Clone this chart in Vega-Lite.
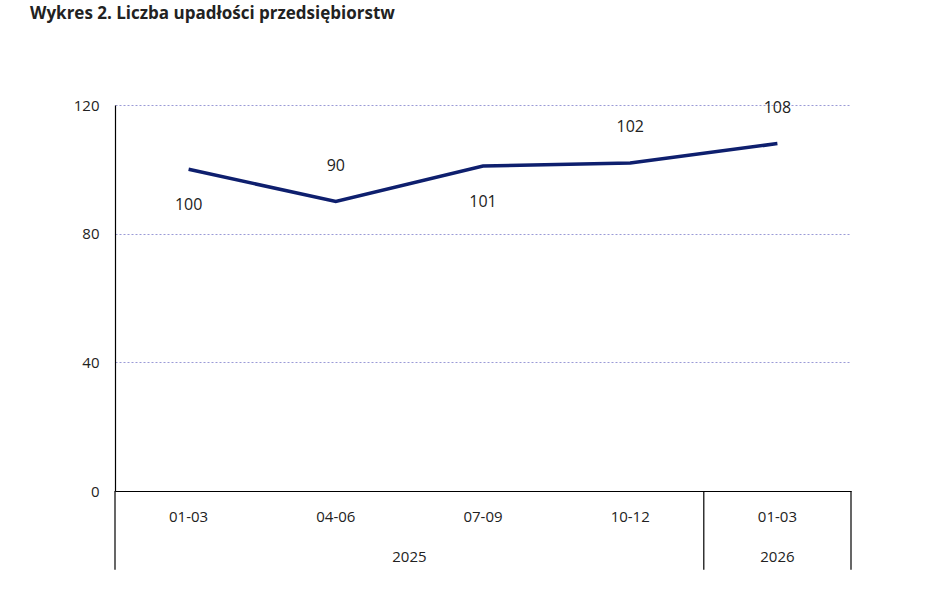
{
  "$schema": "https://vega.github.io/schema/vega-lite/v6.json",
  "autosize": "none",
  "width": 736,
  "height": 386,
  "padding": {"left": 115, "top": 105, "right": 97, "bottom": 98},
  "background": "white",
  "config": {
    "font": "Open Sans",
    "view": {"stroke": null},
    "title": {"font": "Open Sans", "fontSize": 17, "fontWeight": "bold", "color": "#222"}
  },
  "title": {"text": "Wykres 2. Liczba upadłości przedsiębiorstw", "anchor": "start", "frame": "group", "dx": -85, "offset": 75},
  "datasets": {
    "series": [
      {"key": "2025-01-03", "okres": "01-03", "value": 100, "pos": "below"},
      {"key": "2025-04-06", "okres": "04-06", "value": 90, "pos": "above"},
      {"key": "2025-07-09", "okres": "07-09", "value": 101, "pos": "below"},
      {"key": "2025-10-12", "okres": "10-12", "value": 102, "pos": "above"},
      {"key": "2026-01-03", "okres": "01-03", "value": 108, "pos": "above"}
    ],
    "separators": [
      {"key": "2025-01-03", "edge": "start"},
      {"key": "2026-01-03", "edge": "start"}
    ],
    "years": [
      {"key": "2025-07-09", "year": "2025"}
    ]
  },
  "encoding": {
    "x": {
      "field": "key", "type": "nominal", "sort": null,
      "scale": {"domain": ["2025-01-03", "2025-04-06", "2025-07-09", "2025-10-12", "2026-01-03"], "paddingInner": 0, "paddingOuter": 0},
      "axis": {"title": null, "labelAngle": 0, "ticks": false, "domainColor": "#000", "domainWidth": 1.2, "labelPadding": 18, "labelFontSize": 15, "labelColor": "#222", "labelExpr": "slice(datum.value, 5)"}
    }
  },
  "layer": [
    {
      "data": {"name": "series"},
      "mark": {"type": "line", "color": "#0e1f6e", "strokeWidth": 3.5},
      "encoding": {
        "y": {
          "field": "value", "type": "quantitative",
          "scale": {"domain": [0, 120]},
          "axis": {"title": null, "values": [0, 40, 80, 120], "ticks": false, "domainColor": "#000", "domainWidth": 1.2, "gridColor": "#9a9ad6", "gridDash": [2, 2], "labelPadding": 16, "labelFontSize": 15, "labelColor": "#222"}
        }
      }
    },
    {
      "data": {"name": "series"},
      "transform": [{"filter": "datum.pos == 'below'"}],
      "mark": {"type": "text", "fontSize": 16, "color": "#222", "dy": 36},
      "encoding": {
        "y": {"field": "value", "type": "quantitative"},
        "text": {"field": "value", "type": "quantitative"}
      }
    },
    {
      "data": {"name": "series"},
      "transform": [{"filter": "datum.pos == 'above'"}],
      "mark": {"type": "text", "fontSize": 16, "color": "#222", "dy": -36},
      "encoding": {
        "y": {"field": "value", "type": "quantitative"},
        "text": {"field": "value", "type": "quantitative"}
      }
    },
    {
      "data": {"name": "separators"},
      "mark": {"type": "rule", "color": "#000", "strokeWidth": 1.2},
      "encoding": {
        "x": {"field": "key", "type": "nominal", "bandPosition": 0},
        "y": {"datum": 0, "type": "quantitative"},
        "y2": {"datum": -24.5}
      }
    },
    {
      "data": {"name": "separators"},
      "transform": [{"filter": "datum.key == '2026-01-03'"}],
      "mark": {"type": "rule", "color": "#000", "strokeWidth": 1.2},
      "encoding": {
        "x": {"field": "key", "type": "nominal", "bandPosition": 1},
        "y": {"datum": 0, "type": "quantitative"},
        "y2": {"datum": -24.5}
      }
    },
    {
      "data": {"name": "years"},
      "mark": {"type": "text", "fontSize": 15, "color": "#222"},
      "encoding": {
        "x": {"field": "key", "type": "nominal", "bandPosition": 0},
        "y": {"datum": -20.5, "type": "quantitative"},
        "text": {"field": "year"}
      }
    },
    {
      "data": {"values": [{"key": "2026-01-03", "year": "2026"}]},
      "mark": {"type": "text", "fontSize": 15, "color": "#222"},
      "encoding": {
        "y": {"datum": -20.5, "type": "quantitative"},
        "text": {"field": "year"}
      }
    }
  ]
}
